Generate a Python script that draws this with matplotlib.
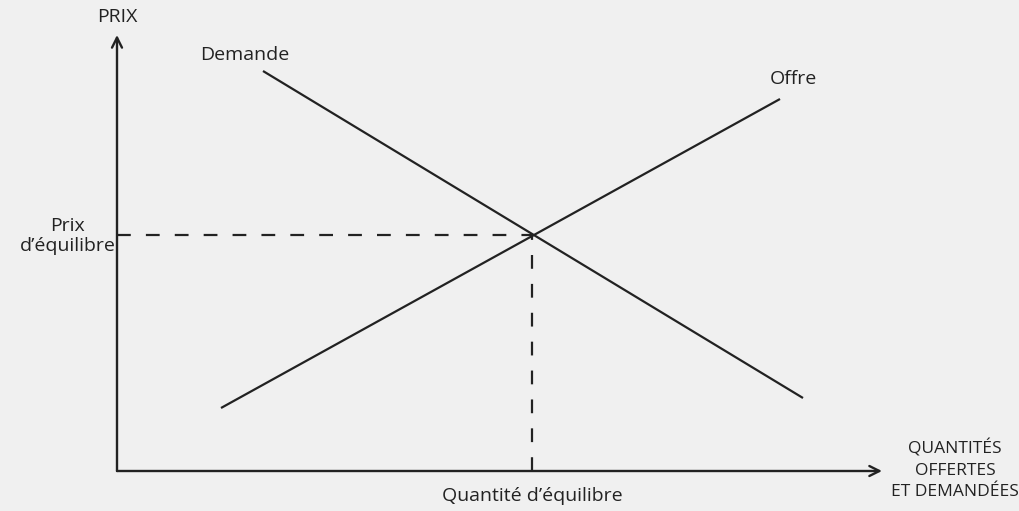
import matplotlib.pyplot as plt

plt.rcParams['font.family'] = ['Open Sans', 'DejaVu Sans']

# courbes (quantité, prix) en unités arbitraires
demande_q = [146, 686]
demande_p = [400, 73]
offre_q = [104, 663]
offre_p = [63, 372]
equilibre_q = 415
equilibre_p = 236
axe_q_max = 765
axe_p_max = 436

ink = '#222222'
fond = '#f0f0f0'

fig = plt.figure(figsize=(10.2, 5.11), dpi=100, facecolor=fond)
ax = fig.add_axes([0, 0, 1, 1])
ax.set_facecolor(fond)
ax.set_xlim(-117, 903)
ax.set_ylim(-40, 471)
ax.axis('off')

# axes avec flèches
ax.annotate('', xy=(axe_q_max, 0), xytext=(0, 0),
            arrowprops=dict(arrowstyle='->', color=ink, lw=1.7, mutation_scale=18,
                            shrinkA=0, shrinkB=0))
ax.annotate('', xy=(0, axe_p_max), xytext=(0, 0),
            arrowprops=dict(arrowstyle='->', color=ink, lw=1.7, mutation_scale=18,
                            shrinkA=0, shrinkB=0))

# offre et demande
ax.plot(demande_q, demande_p, color=ink, lw=1.6, solid_capstyle='butt')
ax.plot(offre_q, offre_p, color=ink, lw=1.6, solid_capstyle='butt')

# pointillés d'équilibre
ax.plot([0, equilibre_q], [equilibre_p, equilibre_p], color=ink, lw=1.6,
        dashes=(6.2, 6.8))
ax.plot([equilibre_q, equilibre_q], [0, equilibre_p], color=ink, lw=1.6,
        dashes=(6.2, 6.8))

fs = 14
ax.text(0, 454, 'PRIX', ha='center', va='center', fontsize=fs, color=ink)
ax.text(128, 416, 'Demande', ha='center', va='center', fontsize=fs, color=ink)
ax.text(676, 392, 'Offre', ha='center', va='center', fontsize=fs, color=ink)
ax.text(-49, equilibre_p - 1, 'Prix\nd\u2019équilibre', ha='center', va='center',
        fontsize=fs, color=ink, linespacing=1.2)
ax.text(equilibre_q, -25, 'Quantité d\u2019équilibre', ha='center', va='center',
        fontsize=fs, color=ink)
ax.text(838, 1, 'QUANTITÉS\nOFFERTES\nET DEMANDÉES', ha='center', va='center',
        fontsize=12.5, color=ink, linespacing=1.45)

fig.savefig('out.png', dpi=100, facecolor=fond)
